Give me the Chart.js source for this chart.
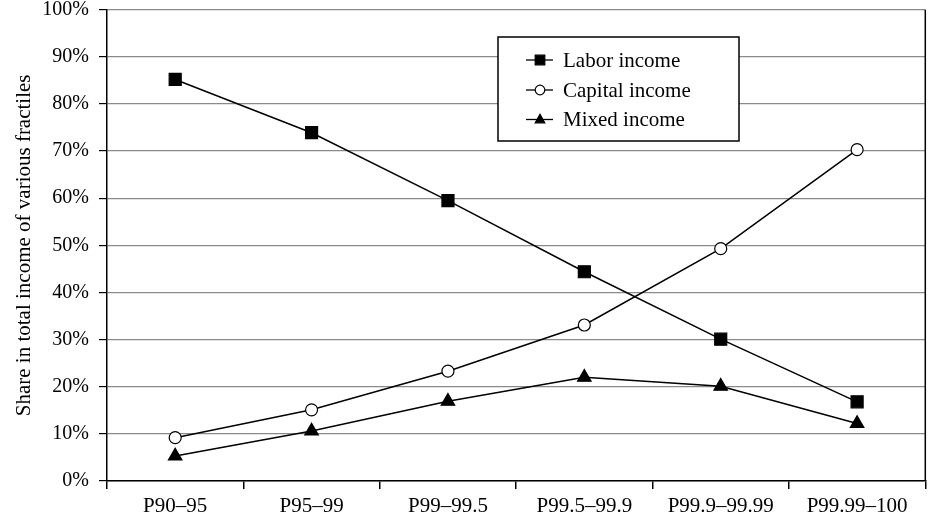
<!DOCTYPE html>
<html>
<head>
<meta charset="utf-8">
<script src="https://cdn.jsdelivr.net/npm/chart.js@4"></script>
<style>
    body { margin: 0; background: #fff; }
    canvas { display: block; }
</style>
</head>
<body>
<canvas id="chart" width="935" height="523"></canvas>
<script>
const fractiles     = ['P90–95', 'P95–99', 'P99–99.5', 'P99.5–99.9', 'P99.9–99.99', 'P99.99–100']
const laborShare    = [85.2, 73.9, 59.5, 44.4, 30.1, 16.8]
const capitalShare  = [9.2, 15.1, 23.3, 33.1, 49.3, 70.3]
const mixedShare    = [5.3, 10.6, 16.9, 22.0, 20.1, 12.2]
const seriesNames   = ['Labor income', 'Capital income', 'Mixed income']

const serif = "'Liberation Serif', 'Times New Roman', serif"

function marker(ctx, style, x, y, r, fill) {
    ctx.save()
    ctx.beginPath()
    if (style == 'rect') {
        ctx.rect(x - r, y - r, r * 2, r * 2)
    } else if (style == 'circle') {
        ctx.arc(x, y, r, 0, Math.PI * 2)
    } else {
        ctx.moveTo(x, y - r * 1.1)
        ctx.lineTo(x + r, y + r * 0.7)
        ctx.lineTo(x - r, y + r * 0.7)
        ctx.closePath()
    }
    ctx.fillStyle   = fill
    ctx.strokeStyle = '#000'
    ctx.lineWidth   = 1.2
    ctx.fill()
    ctx.stroke()
    ctx.restore()
}

// boxed legend with a little line through each marker, like the original
const boxLegend = {
    id: 'boxLegend',
    afterDraw(chart) {
        let ctx = chart.ctx
        let box = {left: 498, top: 37, right: 739, bottom: 141}

        ctx.save()
        ctx.fillStyle   = '#fff'
        ctx.strokeStyle = '#000'
        ctx.lineWidth   = 1.5
        ctx.fillRect(box.left, box.top, box.right - box.left, box.bottom - box.top)
        ctx.strokeRect(box.left, box.top, box.right - box.left, box.bottom - box.top)

        let rows = [60, 90, 119.5]
        chart.data.datasets.forEach((ds, i) => {
            let y = rows[i]
            ctx.beginPath()
            ctx.moveTo(526, y)
            ctx.lineTo(553, y)
            ctx.strokeStyle = '#000'
            ctx.lineWidth   = 1.3
            ctx.stroke()
            marker(ctx, ds.pointStyle, 540, y, 4.8, ds.pointBackgroundColor)

            ctx.fillStyle    = '#000'
            ctx.font         = '21px ' + serif
            ctx.textBaseline = 'alphabetic'
            ctx.textAlign    = 'left'
            ctx.fillText(ds.label, 563, y + 6.5)
        })
        ctx.restore()
    }
}

// right edge of the plot frame
const rightFrame = {
    id: 'rightFrame',
    afterDatasetsDraw(chart) {
        let a   = chart.chartArea
        let ctx = chart.ctx
        ctx.save()
        ctx.beginPath()
        ctx.moveTo(a.right, a.top)
        ctx.lineTo(a.right, a.bottom)
        ctx.strokeStyle = '#000'
        ctx.lineWidth   = 1.5
        ctx.stroke()
        ctx.restore()
    }
}

function series(label, values, style, radius, fill) {
    return {
        label: label,
        data: values,
        borderColor: '#000',
        borderWidth: 1.5,
        pointStyle: style,
        pointRadius: radius,
        pointBackgroundColor: fill,
        pointBorderColor: '#000',
        pointBorderWidth: 1.2,
        tension: 0,
        fill: false
    }
}

new Chart(document.getElementById('chart'), {
    type: 'line',
    data: {
        labels: fractiles,
        datasets: [
            series(seriesNames[0], laborShare, 'rect', 8.5, '#000'),
            series(seriesNames[1], capitalShare, 'circle', 6, '#fff'),
            series(seriesNames[2], mixedShare, 'triangle', 7.8, '#000')
        ]
    },
    options: {
        responsive: false,
        devicePixelRatio: 1,
        animation: false,
        layout: { padding: { left: 0, right: 3, top: 8, bottom: 0 } },
        plugins: {
            legend: { display: false },
            tooltip: { enabled: false }
        },
        scales: {
            x: {
                offset: true,
                grid: {
                    offset: true,
                    drawOnChartArea: false,
                    tickLength: 8,
                    tickColor: '#000',
                    lineWidth: 1.5
                },
                border: { color: '#000', width: 1.5 },
                ticks: {
                    color: '#000',
                    padding: 5,
                    maxRotation: 0,
                    font: { family: serif, size: 21 }
                },
                afterFit: (s) => { s.height = 42; s.paddingLeft = 0; s.paddingRight = 0 }
            },
            y: {
                min: 0,
                max: 100,
                grid: {
                    color: '#8a8a8a',
                    lineWidth: 1.2,
                    tickLength: 8,
                    tickColor: '#000'
                },
                border: { color: '#000', width: 1.5 },
                ticks: {
                    stepSize: 10,
                    color: '#000',
                    padding: 10,
                    font: { family: serif, size: 20 },
                    callback: (v) => v + '%'
                },
                title: {
                    display: true,
                    text: 'Share in total income of various fractiles',
                    color: '#000',
                    font: { family: serif, size: 21 },
                    padding: { top: 12, bottom: 0 }
                },
                afterFit: (s) => { s.width = 107; s.paddingTop = 0; s.paddingBottom = 0 }
            }
        }
    },
    plugins: [rightFrame, boxLegend]
})
</script>
</body>
</html>
